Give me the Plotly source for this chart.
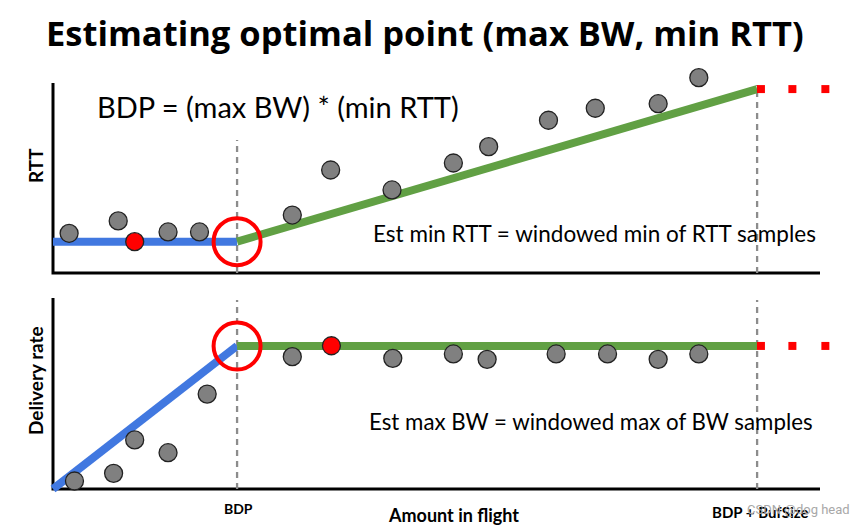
import plotly.graph_objects as go

# The page body adds an 8px margin, so the figure is drawn at (8, 8).
OFF = 8
W, H = 867 - OFF, 526 - OFF

# ---------------- data ----------------
axis_span = [0, 100]          # drawn axis extent (both axes, both panels)
x_view = [-2, 106]            # visible data window (room for marks past the axes)
y_view = [-3, 108]
bdp_x = 24.0
bdp_buf_x = 91.8

# RTT panel
rtt_sample_x = [2.1, 8.5, 15.0, 19.1, 31.2, 36.2, 44.2, 52.2, 56.8, 64.6, 70.7, 78.9, 84.2]
rtt_sample_y = [20.9, 27.4, 21.6, 21.6, 30.5, 54.2, 43.7, 57.9, 66.5, 80.4, 86.7, 89.1, 102.8]
rtt_min_x, rtt_min_y = 10.65, 16.5
min_rtt = 16.5
rtt_at_buf = 96.8

# Delivery-rate panel
bw_sample_x = [2.8, 7.9, 10.65, 15.0, 20.1, 31.2, 44.3, 52.2, 56.6, 65.6, 72.3, 78.9, 84.2]
bw_sample_y = [4.2, 8.2, 25.7, 19.0, 49.7, 69.3, 68.4, 70.7, 67.9, 70.7, 70.7, 67.9, 70.7]
bw_max_x, bw_max_y = 36.3, 75.0
max_bw = 74.9

ellipsis_x = [92.3, 96.4, 100.7]

title_text = "Estimating optimal point (max BW, min RTT)"
formula_text = "BDP = (max BW) * (min RTT)"
rtt_note = "Est min RTT = windowed min of RTT samples"
bw_note = "Est max BW = windowed max of BW samples"
rtt_label = "RTT"
bw_label = "Delivery rate"
x_label = "Amount in flight"
bdp_label = "BDP"
bdp_buf_label = "BDP + BufSize"
watermark = "CSDN @dog head"

# ---------------- styles ----------------
BLUE = "#4178e0"
GREEN = "#61a044"
RED = "#ff0000"
GRAY_DOT = "#808080"
DASH = "#8c8c8c"
FONT = "Lato"


def px(x):
    return (x - OFF) / W


def py(y):
    return 1 - (y - OFF) / H


def x_domain(view, pix_lo, pix_hi):
    s = (pix_hi - pix_lo) / (axis_span[1] - axis_span[0])
    a = pix_lo + (view[0] - axis_span[0]) * s
    b = pix_lo + (view[1] - axis_span[0]) * s
    return [px(a), px(b)]


def y_domain(view, pix_bottom, pix_top):
    s = (pix_bottom - pix_top) / (axis_span[1] - axis_span[0])
    a = pix_bottom - (view[0] - axis_span[0]) * s
    b = pix_bottom - (view[1] - axis_span[0]) * s
    return [py(a), py(b)]


fig = go.Figure()


def add_panel(xa, ya, samples_x, samples_y, red_x, red_y, knee_y, base_pts, buf_y, dash_top_bdp, dash_top_buf):
    common = dict(xaxis=xa, yaxis=ya, hoverinfo="skip", cliponaxis=False)
    # axes (L-shaped)
    fig.add_trace(go.Scatter(x=[axis_span[0], axis_span[0], axis_span[1]],
                             y=[axis_span[1], axis_span[0], axis_span[0]], mode="lines",
                             line=dict(color="black", width=3), **common))
    fig.add_trace(go.Scatter(x=[bdp_x, bdp_x], y=[0, dash_top_bdp], mode="lines",
                             line=dict(color=DASH, width=2.3, dash="6px,5px"), **common))
    fig.add_trace(go.Scatter(x=[bdp_buf_x, bdp_buf_x], y=[0, dash_top_buf], mode="lines",
                             line=dict(color=DASH, width=2.3, dash="6px,5px"), **common))
    fig.add_trace(go.Scatter(x=[0, bdp_x], y=base_pts, mode="lines",
                             line=dict(color=BLUE, width=8), **common))
    fig.add_trace(go.Scatter(x=[bdp_x, bdp_buf_x], y=[knee_y, buf_y], mode="lines",
                             line=dict(color=GREEN, width=8), **common))
    fig.add_trace(go.Scatter(x=ellipsis_x, y=[buf_y] * 3, mode="markers",
                             marker=dict(symbol="square", size=8, color=RED), **common))
    fig.add_trace(go.Scatter(x=samples_x, y=samples_y, mode="markers",
                             marker=dict(size=18, color=GRAY_DOT, line=dict(color="#222222", width=1.3)),
                             **common))
    fig.add_trace(go.Scatter(x=[red_x], y=[red_y], mode="markers",
                             marker=dict(size=18, color=RED, line=dict(color="#222222", width=1.3)),
                             **common))
    fig.add_trace(go.Scatter(x=[bdp_x], y=[knee_y], mode="markers",
                             marker=dict(symbol="circle-open", size=47, color=RED,
                                         line=dict(color=RED, width=4)), **common))


add_panel("x", "y", rtt_sample_x, rtt_sample_y, rtt_min_x, rtt_min_y,
          min_rtt, [min_rtt, min_rtt], rtt_at_buf, 70, 98.9)
add_panel("x2", "y2", bw_sample_x, bw_sample_y, bw_max_x, bw_max_y,
          max_bw, [0, max_bw], max_bw, 99, 99)

axis_common = dict(showline=False, showgrid=False, zeroline=False,
                   showticklabels=False, ticks="", fixedrange=True)

xd = x_domain(x_view, 53, 820)
fig.update_layout(
    width=W, height=H,
    margin=dict(l=0, r=0, t=0, b=0),
    paper_bgcolor="white", plot_bgcolor="white",
    showlegend=False,
    xaxis=dict(axis_common, range=x_view, domain=xd, anchor="y"),
    yaxis=dict(axis_common, range=y_view, domain=y_domain(y_view, 273, 83), anchor="x"),
    xaxis2=dict(axis_common, range=x_view, domain=xd, anchor="y2"),
    yaxis2=dict(axis_common, range=y_view, domain=y_domain(y_view, 489, 298), anchor="x2"),
)


def note(text, x, y, size, weight=400, color="black", angle=0, family=FONT):
    fig.add_annotation(text=text, x=px(x), y=py(y), xref="paper", yref="paper",
                       showarrow=False, xanchor="center", yanchor="middle",
                       textangle=angle,
                       font=dict(family=family, size=size, color=color, weight=weight))


note(title_text, 425, 32, 34.5, weight=700, family="Open Sans")
note(formula_text, 278, 107, 29)
note(rtt_note, 594, 233, 22.5)
note(bw_note, 591, 421, 22.3)
note(rtt_label, 35, 166, 19, weight=700, angle=-90)
note(bw_label, 35, 381, 19, weight=700, angle=-90)
note(x_label, 454, 515, 18, weight=700)
note(bdp_label, 238, 508, 14, weight=700)
note(bdp_buf_label, 760, 512, 15, weight=700)
note(watermark, 798, 509, 13, color="#a8a8a8", family="Roboto")

fig.write_html("out.html")
